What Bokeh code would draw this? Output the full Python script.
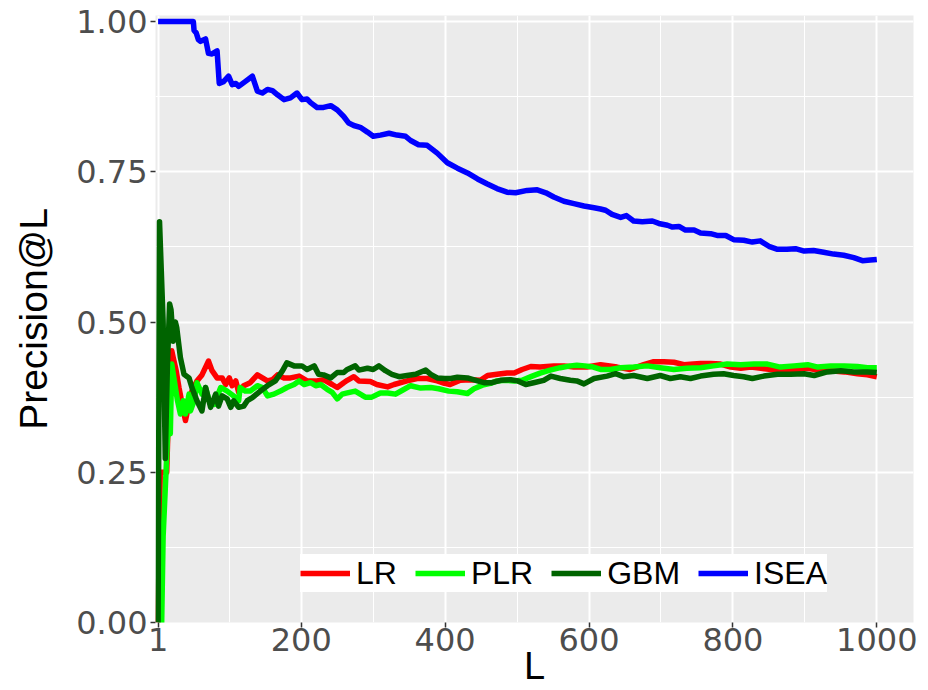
from bokeh.plotting import figure
from bokeh.models import Range1d, FixedTicker, Legend, LegendItem, NumeralTickFormatter
from bokeh.embed import file_html
from bokeh.resources import INLINE

# ---- data: Precision@L for each method, sampled along L ----
lr_L = [
    1, 4, 8, 13, 16, 20, 22, 26, 30, 35,
    39, 41, 48, 55, 62, 71, 76, 83, 90, 95,
    100, 104, 109, 113, 120, 129, 139, 146, 153, 160,
    167, 176, 185, 197, 208, 222, 231, 243, 250, 259,
    264, 273, 280, 296, 305, 320, 329, 347, 361, 375,
    389, 399, 407, 421, 435, 449, 459, 472, 486, 496,
    507, 519, 532, 551, 565, 579, 597, 616, 639, 657,
    676, 690, 704, 718, 732, 745, 755, 769, 783, 797,
    811, 825, 839, 853, 871, 890, 904, 918, 936, 955,
    973, 987, 1000]
lr_P = [
    0.000, 0.250, 0.250, 0.250, 0.375, 0.452, 0.441, 0.420, 0.391, 0.360,
    0.336, 0.347, 0.385, 0.402, 0.412, 0.435, 0.419, 0.407, 0.407, 0.396,
    0.407, 0.394, 0.402, 0.383, 0.394, 0.399, 0.412, 0.407, 0.402, 0.404,
    0.412, 0.407, 0.407, 0.410, 0.402, 0.402, 0.404, 0.396, 0.391, 0.399,
    0.403, 0.409, 0.402, 0.401, 0.396, 0.392, 0.396, 0.402, 0.406, 0.406,
    0.402, 0.398, 0.396, 0.403, 0.404, 0.403, 0.411, 0.413, 0.415, 0.415,
    0.421, 0.426, 0.425, 0.427, 0.427, 0.425, 0.425, 0.429, 0.425, 0.421,
    0.429, 0.434, 0.434, 0.433, 0.429, 0.430, 0.431, 0.431, 0.430, 0.425,
    0.423, 0.425, 0.423, 0.421, 0.420, 0.421, 0.423, 0.420, 0.419, 0.417,
    0.414, 0.412, 0.409]

plr_L = [
    1, 6, 8, 12, 15, 18, 20, 25, 28, 32,
    36, 39, 44, 46, 51, 55, 62, 67, 72, 79,
    88, 97, 106, 113, 115, 122, 129, 139, 146, 153,
    162, 171, 180, 190, 197, 204, 213, 220, 227, 236,
    243, 250, 257, 264, 275, 289, 298, 310, 320, 331,
    340, 352, 366, 380, 391, 405, 417, 431, 440, 452,
    463, 472, 484, 496, 507, 521, 532, 546, 560, 574,
    583, 594, 606, 616, 630, 644, 662, 681, 699, 718,
    736, 755, 773, 792, 811, 829, 848, 866, 885, 904,
    918, 936, 955, 973, 987, 1000]
plr_P = [
    0.000, 0.000, 0.143, 0.250, 0.333, 0.314, 0.430, 0.391, 0.369, 0.347,
    0.369, 0.347, 0.380, 0.352, 0.369, 0.399, 0.380, 0.391, 0.369, 0.363,
    0.391, 0.385, 0.377, 0.369, 0.391, 0.385, 0.385, 0.394, 0.391, 0.377,
    0.380, 0.385, 0.391, 0.396, 0.402, 0.396, 0.399, 0.394, 0.396, 0.388,
    0.383, 0.372, 0.380, 0.382, 0.385, 0.375, 0.375, 0.382, 0.382, 0.380,
    0.386, 0.394, 0.390, 0.391, 0.389, 0.385, 0.384, 0.381, 0.389, 0.395,
    0.398, 0.402, 0.403, 0.402, 0.403, 0.410, 0.415, 0.420, 0.424, 0.427,
    0.428, 0.427, 0.425, 0.421, 0.421, 0.424, 0.425, 0.427, 0.424, 0.421,
    0.423, 0.424, 0.427, 0.430, 0.429, 0.430, 0.430, 0.425, 0.427, 0.429,
    0.425, 0.427, 0.427, 0.426, 0.424, 0.424]

gbm_L = [
    1, 3, 5, 8, 11, 14, 17, 19, 22, 25,
    27, 32, 37, 44, 48, 55, 62, 67, 74, 81,
    85, 90, 97, 102, 106, 113, 120, 125, 132, 143,
    153, 164, 174, 180, 190, 201, 208, 218, 224, 231,
    241, 250, 259, 264, 275, 280, 292, 300, 308, 317,
    326, 336, 347, 359, 373, 380, 389, 399, 408, 417,
    431, 445, 454, 465, 477, 491, 501, 512, 523, 537,
    547, 560, 574, 583, 593, 607, 625, 637, 648, 662,
    681, 699, 713, 727, 741, 755, 773, 787, 801, 815,
    827, 843, 862, 880, 899, 913, 931, 950, 968, 987,
    1000]
gbm_P = [
    0.000, 0.667, 0.600, 0.500, 0.273, 0.430, 0.530, 0.520, 0.468, 0.500,
    0.490, 0.441, 0.413, 0.407, 0.391, 0.369, 0.352, 0.391, 0.358, 0.380,
    0.360, 0.377, 0.372, 0.358, 0.369, 0.358, 0.360, 0.369, 0.374, 0.385,
    0.394, 0.402, 0.419, 0.432, 0.427, 0.427, 0.421, 0.427, 0.413, 0.412,
    0.407, 0.416, 0.416, 0.421, 0.427, 0.420, 0.423, 0.421, 0.427, 0.419,
    0.413, 0.409, 0.411, 0.413, 0.420, 0.413, 0.407, 0.406, 0.406, 0.408,
    0.407, 0.402, 0.399, 0.399, 0.403, 0.404, 0.402, 0.396, 0.399, 0.403,
    0.410, 0.406, 0.403, 0.402, 0.397, 0.406, 0.410, 0.414, 0.409, 0.411,
    0.406, 0.411, 0.406, 0.409, 0.406, 0.410, 0.413, 0.414, 0.411, 0.409,
    0.406, 0.410, 0.413, 0.413, 0.414, 0.411, 0.417, 0.419, 0.417, 0.417,
    0.416]

isea_L = [
    1, 50, 51, 54, 57, 60, 67, 71, 76, 83,
    86, 92, 99, 104, 109, 113, 122, 132, 139, 146,
    153, 160, 167, 176, 185, 194, 201, 208, 213, 222,
    231, 241, 250, 259, 266, 273, 282, 292, 300, 310,
    322, 333, 345, 352, 363, 375, 389, 403, 417, 431,
    445, 458, 472, 486, 498, 514, 528, 540, 551, 565,
    579, 593, 607, 616, 623, 632, 644, 652, 662, 674,
    688, 697, 709, 716, 725, 734, 746, 755, 769, 778,
    790, 801, 815, 827, 838, 850, 862, 875, 887, 899,
    912, 926, 940, 954, 968, 980, 991, 1000]
isea_P = [
    1.000, 1.000, 0.985, 0.981, 0.970, 0.967, 0.971, 0.947, 0.946, 0.951,
    0.897, 0.900, 0.909, 0.895, 0.897, 0.892, 0.900, 0.909, 0.884, 0.881,
    0.887, 0.885, 0.878, 0.870, 0.873, 0.881, 0.870, 0.871, 0.865, 0.857,
    0.857, 0.860, 0.853, 0.842, 0.831, 0.827, 0.824, 0.816, 0.809, 0.811,
    0.814, 0.811, 0.809, 0.802, 0.795, 0.794, 0.781, 0.765, 0.756, 0.748,
    0.738, 0.730, 0.722, 0.716, 0.715, 0.719, 0.720, 0.715, 0.708, 0.701,
    0.697, 0.693, 0.690, 0.688, 0.686, 0.679, 0.674, 0.677, 0.668, 0.667,
    0.668, 0.664, 0.661, 0.658, 0.659, 0.653, 0.653, 0.648, 0.647, 0.644,
    0.644, 0.637, 0.636, 0.633, 0.635, 0.626, 0.621, 0.621, 0.622, 0.618,
    0.619, 0.616, 0.613, 0.611, 0.607, 0.602, 0.603, 0.604]

methods = ["LR", "PLR", "GBM", "ISEA"]
colors = ["#FF0000", "#00FF00", "#006400", "#0000FF"]
series = [(lr_L, lr_P), (plr_L, plr_P), (gbm_L, gbm_P), (isea_L, isea_P)]

x_ticks = [1, 200, 400, 600, 800, 1000]
x_minor = [100.5, 300, 500, 700, 900]
y_ticks = [0.0, 0.25, 0.5, 0.75, 1.0]
y_minor = [0.125, 0.375, 0.625, 0.875]

TEXT_FONT = "Liberation Sans"
NUM_FONT = "DejaVu Sans"

p = figure(
    width=928, height=690,
    output_backend="svg", toolbar_location=None,
    x_range=Range1d(-2.6, 1051), y_range=Range1d(0, 1.01),
    min_border_left=155, min_border_right=15,
    min_border_top=15, min_border_bottom=68,
)
p.background_fill_color = "#EBEBEB"
p.border_fill_color = "white"
p.outline_line_color = None

p.xaxis.ticker = FixedTicker(ticks=x_ticks, minor_ticks=x_minor)
p.yaxis.ticker = FixedTicker(ticks=y_ticks, minor_ticks=y_minor)
p.yaxis.formatter = NumeralTickFormatter(format="0.00")

for grid in (p.xgrid, p.ygrid):
    grid.grid_line_color = "white"
    grid.grid_line_width = 2
    grid.minor_grid_line_color = "white"
    grid.minor_grid_line_width = 1

for ax in (p.xaxis, p.yaxis):
    ax.axis_line_color = None
    ax.major_tick_line_color = "#333333"
    ax.major_tick_line_width = 1.5
    ax.major_tick_out = 5
    ax.major_tick_in = 0
    ax.minor_tick_line_color = None
    ax.major_label_text_font = NUM_FONT
    ax.major_label_text_font_size = "32px"
    ax.major_label_text_color = "#4D4D4D"
    ax.axis_label_text_font = TEXT_FONT
    ax.axis_label_text_font_style = "normal"
    ax.axis_label_text_color = "black"

p.xaxis.major_label_standoff = 0
p.yaxis.major_label_standoff = 3

p.xaxis.axis_label = "L"
p.xaxis.axis_label_text_font_size = "38px"
p.xaxis.axis_label_standoff = -9
p.yaxis.axis_label = "Precision@L"
p.yaxis.axis_label_text_font_size = "39px"
p.yaxis.axis_label_standoff = 18

items = []
for name, col, (xs, ys) in zip(methods, colors, series):
    r = p.line(xs, ys, line_color=col, line_width=5.5, line_join="round")
    items.append(LegendItem(label=name, renderers=[r]))

legend = Legend(
    items=items, orientation="horizontal", location=(145, 30),
    padding=16, spacing=18, margin=0,
    glyph_width=50, glyph_height=38, label_standoff=6,
    label_text_font=TEXT_FONT, label_text_font_size="32px", label_text_color="black",
    background_fill_color="white", background_fill_alpha=1.0,
    border_line_color=None,
)
p.add_layout(legend)

open("out.html", "w").write(file_html(p, INLINE, title="Precision@L"))
